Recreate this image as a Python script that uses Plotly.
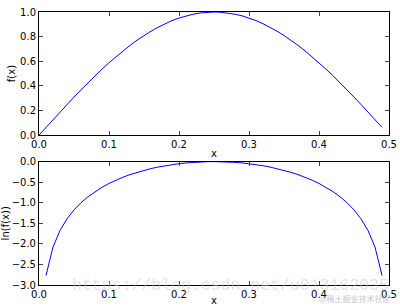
import plotly.graph_objects as go

# x positions of the samples
x_top = [0.00, 0.01, 0.02, 0.03, 0.04, 0.05, 0.06, 0.07, 0.08, 0.09,
         0.10, 0.11, 0.12, 0.13, 0.14, 0.15, 0.16, 0.17, 0.18, 0.19,
         0.20, 0.21, 0.22, 0.23, 0.24, 0.25, 0.26, 0.27, 0.28, 0.29,
         0.30, 0.31, 0.32, 0.33, 0.34, 0.35, 0.36, 0.37, 0.38, 0.39,
         0.40, 0.41, 0.42, 0.43, 0.44, 0.45, 0.46, 0.47, 0.48, 0.49]
f_values = [0.000, 0.063, 0.125, 0.187, 0.249, 0.309, 0.368, 0.426, 0.482, 0.536,
            0.588, 0.637, 0.685, 0.729, 0.771, 0.809, 0.844, 0.876, 0.905, 0.930,
            0.951, 0.969, 0.982, 0.992, 0.998, 1.000, 0.998, 0.992, 0.982, 0.969,
            0.951, 0.930, 0.905, 0.876, 0.844, 0.809, 0.771, 0.729, 0.685, 0.637,
            0.588, 0.536, 0.482, 0.426, 0.368, 0.309, 0.249, 0.187, 0.125, 0.063]

x_bottom = [0.01, 0.02, 0.03, 0.04, 0.05, 0.06, 0.07, 0.08, 0.09,
            0.10, 0.11, 0.12, 0.13, 0.14, 0.15, 0.16, 0.17, 0.18, 0.19,
            0.20, 0.21, 0.22, 0.23, 0.24, 0.25, 0.26, 0.27, 0.28, 0.29,
            0.30, 0.31, 0.32, 0.33, 0.34, 0.35, 0.36, 0.37, 0.38, 0.39,
            0.40, 0.41, 0.42, 0.43, 0.44, 0.45, 0.46, 0.47, 0.48, 0.49]
ln_values = [-2.768, -2.077, -1.675, -1.391, -1.174, -0.999, -0.854, -0.730, -0.624,
             -0.531, -0.450, -0.379, -0.316, -0.261, -0.212, -0.169, -0.132, -0.100, -0.073,
             -0.050, -0.032, -0.018, -0.008, -0.002, 0.000, -0.002, -0.008, -0.018, -0.032,
             -0.050, -0.073, -0.100, -0.132, -0.169, -0.212, -0.261, -0.316, -0.379, -0.450,
             -0.531, -0.624, -0.730, -0.854, -0.999, -1.174, -1.391, -1.675, -2.077, -2.768]

x_ticks = [0.0, 0.1, 0.2, 0.3, 0.4, 0.5]
top_y_ticks = [0.0, 0.2, 0.4, 0.6, 0.8, 1.0]
bottom_y_ticks = [-3.0, -2.5, -2.0, -1.5, -1.0, -0.5, 0.0]

FONT = "DejaVu Sans"
FS = 10
line_style = dict(color="#0000ff", width=1)

fig = go.Figure()
fig.add_trace(go.Scatter(x=x_top, y=f_values, mode="lines", line=line_style,
                         xaxis="x", yaxis="y", showlegend=False))
fig.add_trace(go.Scatter(x=x_bottom, y=ln_values, mode="lines", line=line_style,
                         xaxis="x2", yaxis="y2", showlegend=False))

axis_common = dict(showline=True, linecolor="black", linewidth=1, mirror="ticks",
                   ticks="inside", ticklen=4, tickcolor="#444", showgrid=False,
                   zeroline=False, tickfont=dict(family=FONT, size=FS, color="black"),
                   tickformat=".1f", automargin=False)

fig.update_layout(
    width=400, height=306,
    margin=dict(l=39, r=11, t=12, b=21),
    paper_bgcolor="white", plot_bgcolor="white",
    font=dict(family=FONT, size=FS, color="black"),
    xaxis=dict(axis_common, domain=[0, 1], range=[0, 0.5], tickvals=x_ticks,
               anchor="y", ticklabelstandoff=0,
               title=dict(text="x", standoff=0, font=dict(family=FONT, size=FS))),
    yaxis=dict(axis_common, domain=[0.549, 1], range=[0, 1], tickvals=top_y_ticks,
               anchor="x", title=dict(text="f(x)", standoff=2,
                                      font=dict(family=FONT, size=FS))),
    xaxis2=dict(axis_common, domain=[0, 1], range=[0, 0.5], tickvals=x_ticks,
                anchor="y2", ticklabelstandoff=0,
                title=dict(text="x", standoff=0, font=dict(family=FONT, size=FS))),
    yaxis2=dict(axis_common, domain=[0, 0.452], range=[-3, 0], tickvals=bottom_y_ticks,
                anchor="x2", title=dict(text="ln(f(x))", standoff=2,
                                        font=dict(family=FONT, size=FS))),
    annotations=[
        dict(text="https://blog.csdn.net/u013162035", xref="paper", yref="paper",
             x=0.0885, y=0.0, xanchor="left", yanchor="middle", showarrow=False,
             font=dict(family="Liberation Mono", size=16.5, color="rgba(200,200,200,0.5)")),
        dict(text="@稀土掘金技术社区", xref="paper", yref="paper", x=1.01, y=0.0,
             xanchor="right", yanchor="top", yshift=-6, showarrow=False,
             font=dict(family="Noto Sans CJK SC", size=8, color="rgba(175,175,175,0.75)")),
    ],
)

fig.write_html("out.html")
